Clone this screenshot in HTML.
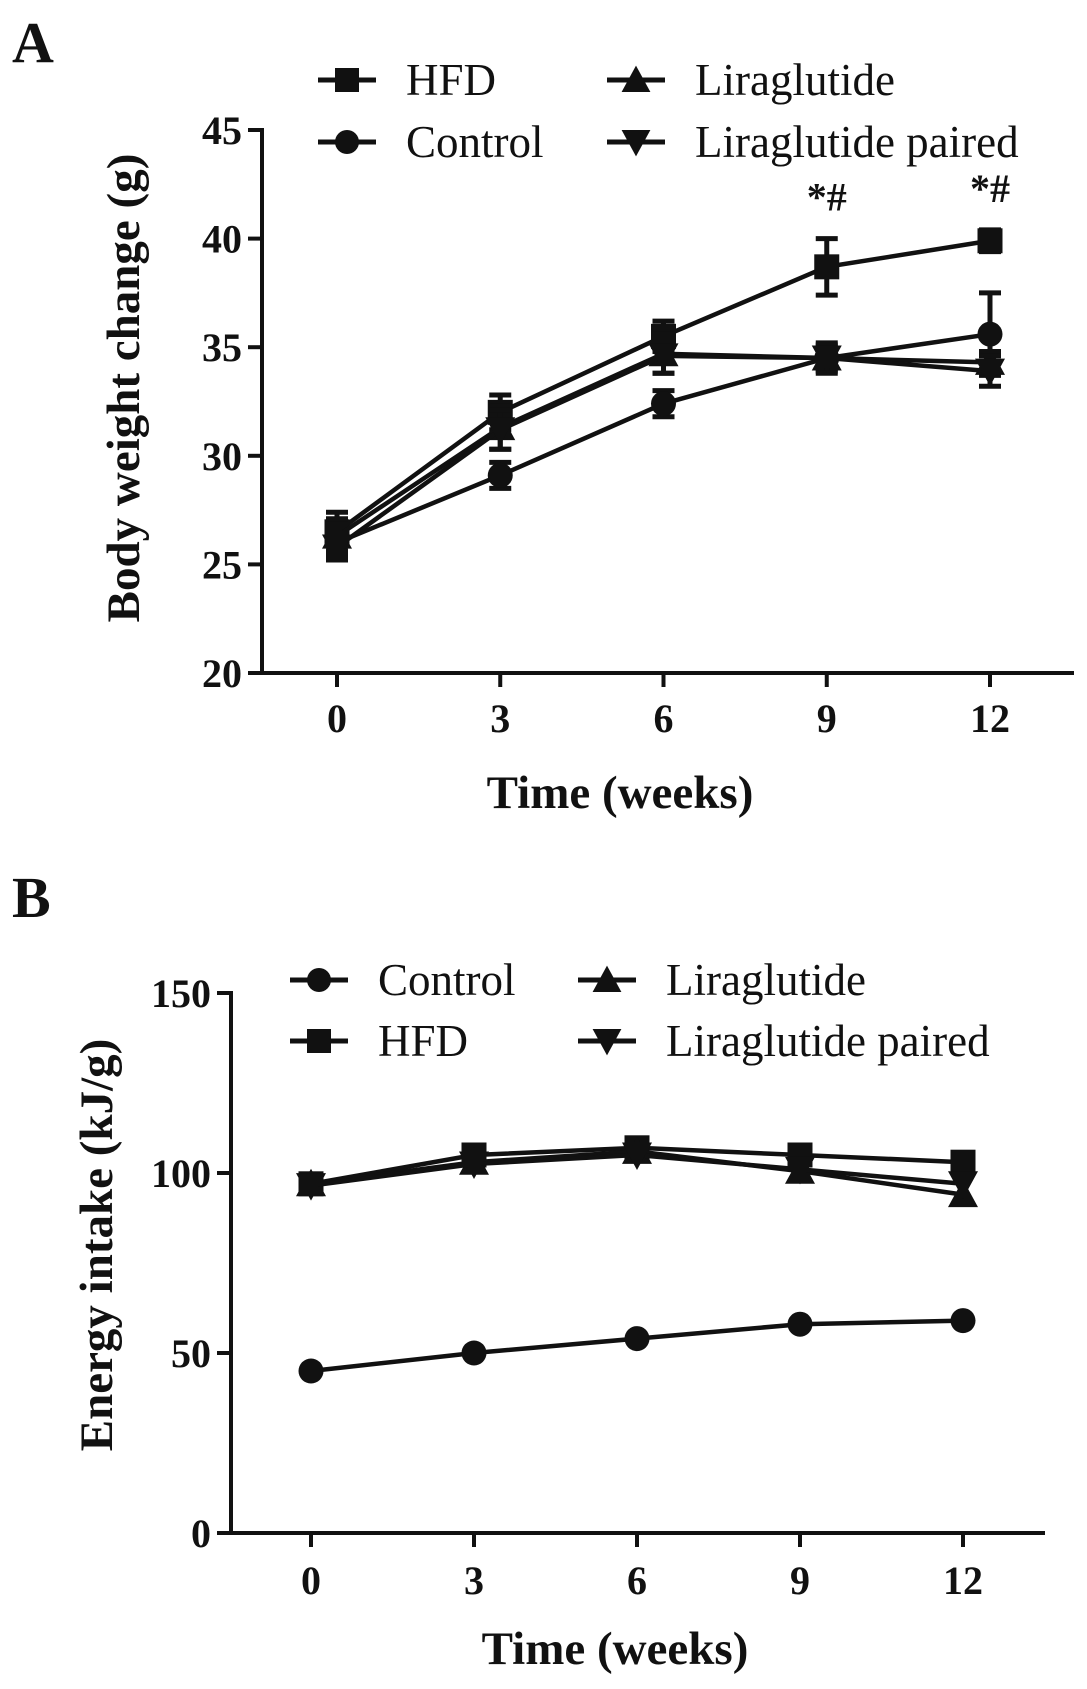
<!DOCTYPE html>
<html><head><meta charset="utf-8"><style>
html,body{margin:0;padding:0;background:#fff}
svg{display:block}
text{font-family:"Liberation Serif",serif;fill:#111}
.tk{font-weight:bold;font-size:40px}
.ti{font-weight:bold;font-size:47px}
.lg{font-size:45px}
</style></head><body>
<svg id="s" width="1087" height="1689" viewBox="0 0 1087 1689"></svg>
<script>
const weeks=[0,3,6,9,12];
const aTicks=[20,25,30,35,40,45];
const aHFD=[26.5,32,35.5,38.7,39.9];
const aHFDerr=[0.9,0.8,0.7,1.3,0.5];
const aControl=[26,29.1,32.4,34.5,35.6];
const aControlErr=[0.7,0.6,0.6,0.5,1.9];
const aLira=[26.3,31.3,34.7,34.5,34.3];
const aLiraErr=[0.8,1.0,0.9,0.6,0.5];
const aPaired=[25.8,31.2,34.6,34.5,33.9];
const aPairedErr=[0.6,0.9,0.8,0.7,0.7];
const bTicks=[0,50,100,150];
const bControl=[45,50,54,58,59];
const bHFD=[97,105,107,105,103];
const bLira=[97,103,106,100.5,94];
const bPaired=[96.5,102.5,105,101,97];
const NS='http://www.w3.org/2000/svg';
const svg=document.getElementById('s');
function el(t,a,p){const e=document.createElementNS(NS,t);for(const k in a)e.setAttribute(k,a[k]);(p||svg).appendChild(e);return e;}
function marker(g,shape,x,y,s){
 if(shape==='square')return el('rect',{x:x-s,y:y-s,width:2*s,height:2*s,fill:'#111'},g);
 if(shape==='circle')return el('circle',{cx:x,cy:y,r:s,fill:'#111'},g);
 if(shape==='up')return el('polygon',{points:`${x},${y-s*1.2} ${x-s*1.2},${y+s} ${x+s*1.2},${y+s}`,fill:'#111'},g);
 return el('polygon',{points:`${x},${y+s*1.2} ${x-s*1.2},${y-s} ${x+s*1.2},${y-s}`,fill:'#111'},g);
}
function panel(o){
 const g=el('g',{});
 
 
 const X=v=>o.x0+(v-weeks[0])/(weeks[4]-weeks[0])*(o.x12-o.x0);
 const Y=v=>o.yBot+(v-o.min)/(o.max-o.min)*(o.yTop-o.yBot);
 el('line',{x1:o.ax,y1:o.yTop-2,x2:o.ax,y2:o.yBot,stroke:'#111','stroke-width':4},g);
 el('line',{x1:o.ax-2,y1:o.yBot,x2:o.axEnd,y2:o.yBot,stroke:'#111','stroke-width':4},g);
 o.ticks.forEach(t=>{
  el('line',{x1:o.ax-14,y1:Y(t),x2:o.ax,y2:Y(t),stroke:'#111','stroke-width':4},g);
  const tx=el('text',{x:o.ax-20,y:Y(t)+14,'text-anchor':'end',class:'tk'},g);tx.textContent=t;
  
  
 });
 weeks.forEach(w=>{
  el('line',{x1:X(w),y1:o.yBot,x2:X(w),y2:o.yBot+14,stroke:'#111','stroke-width':4},g);
  const tx=el('text',{x:X(w),y:o.tickY,'text-anchor':'middle',class:'tk'},g);tx.textContent=w;
  
  
 });
 o.series.forEach(s=>{
  const sg=el('g',{},g);
  
  
  el('polyline',{points:s.v.map((v,i)=>X(weeks[i])+','+Y(v)).join(' '),fill:'none',stroke:'#111','stroke-width':4.5},sg);
  s.v.forEach((v,i)=>{
   if(s.e){const e=s.e[i];
    el('line',{x1:X(weeks[i]),y1:Y(v-e),x2:X(weeks[i]),y2:Y(v+e),stroke:'#111','stroke-width':5},sg);
    [v-e,v+e].forEach(q=>el('line',{x1:X(weeks[i])-11,y1:Y(q),x2:X(weeks[i])+11,y2:Y(q),stroke:'#111','stroke-width':5},sg));}
   const m=marker(sg,s.shape,X(weeks[i]),Y(v),12.5);
   
   
  });
 });
 (o.stars||[]).forEach(i=>{
  const tx=el('text',{x:X(weeks[i]),y:Y(o.series[0].v[i]+o.series[0].e[i])-28,'text-anchor':'middle',class:'tk'},g);tx.textContent='*#';
  
  
 });
 o.legend.forEach(l=>{
  const lg=el('g',{},g);
  
  
  el('line',{x1:l.x,y1:l.y,x2:l.x+58,y2:l.y,stroke:'#111','stroke-width':5},lg);
  marker(lg,l.shape,l.x+29,l.y,12);
  const tx=el('text',{x:l.x+88,y:l.y+15,class:'lg'},lg);tx.textContent=l.t;
 });
 const xt=el('text',{x:o.titleX,y:o.titleY,'text-anchor':'middle',class:'ti'},g);xt.textContent='Time (weeks)';
 
 
 const yt=el('text',{x:0,y:0,'text-anchor':'middle',class:'ti',transform:`translate(${o.ylX},${o.ylY}) rotate(-90)`},g);yt.textContent=o.ylabel;
 
 
 const pl=el('text',{x:12,y:o.letterY,style:'font-weight:bold;font-size:58px'},g);pl.textContent=o.letter;
 
 
}
panel({name:'panel-a-body-weight',ax:262,axEnd:1074,x0:337,x12:990,yTop:130,yBot:673,min:20,max:45,ticks:aTicks,tickY:732,titleY:808,titleX:620,ylX:139,ylY:388,ylabel:'Body weight change (g)',letter:'A',letterY:62,stars:[3,4],
 series:[{key:'hfd',v:aHFD,e:aHFDerr,shape:'square'},{key:'control',v:aControl,e:aControlErr,shape:'circle'},{key:'liraglutide',v:aLira,e:aLiraErr,shape:'up'},{key:'liraglutide-paired',v:aPaired,e:aPairedErr,shape:'down'}],
 legend:[{x:318,y:80,shape:'square',t:'HFD'},{x:318,y:142,shape:'circle',t:'Control'},{x:607,y:80,shape:'up',t:'Liraglutide'},{x:607,y:142,shape:'down',t:'Liraglutide paired'}]});
panel({name:'panel-b-energy-intake',ax:231,axEnd:1045,x0:311,x12:963,yTop:993,yBot:1533,min:0,max:150,ticks:bTicks,tickY:1594,titleY:1664,titleX:615,ylX:112,ylY:1245,ylabel:'Energy intake (kJ/g)',letter:'B',letterY:917,
 series:[{key:'control',v:bControl,shape:'circle'},{key:'hfd',v:bHFD,shape:'square'},{key:'liraglutide',v:bLira,shape:'up'},{key:'liraglutide-paired',v:bPaired,shape:'down'}],
 legend:[{x:290,y:980,shape:'circle',t:'Control'},{x:290,y:1041,shape:'square',t:'HFD'},{x:578,y:980,shape:'up',t:'Liraglutide'},{x:578,y:1041,shape:'down',t:'Liraglutide paired'}]});
</script>
</body></html>
